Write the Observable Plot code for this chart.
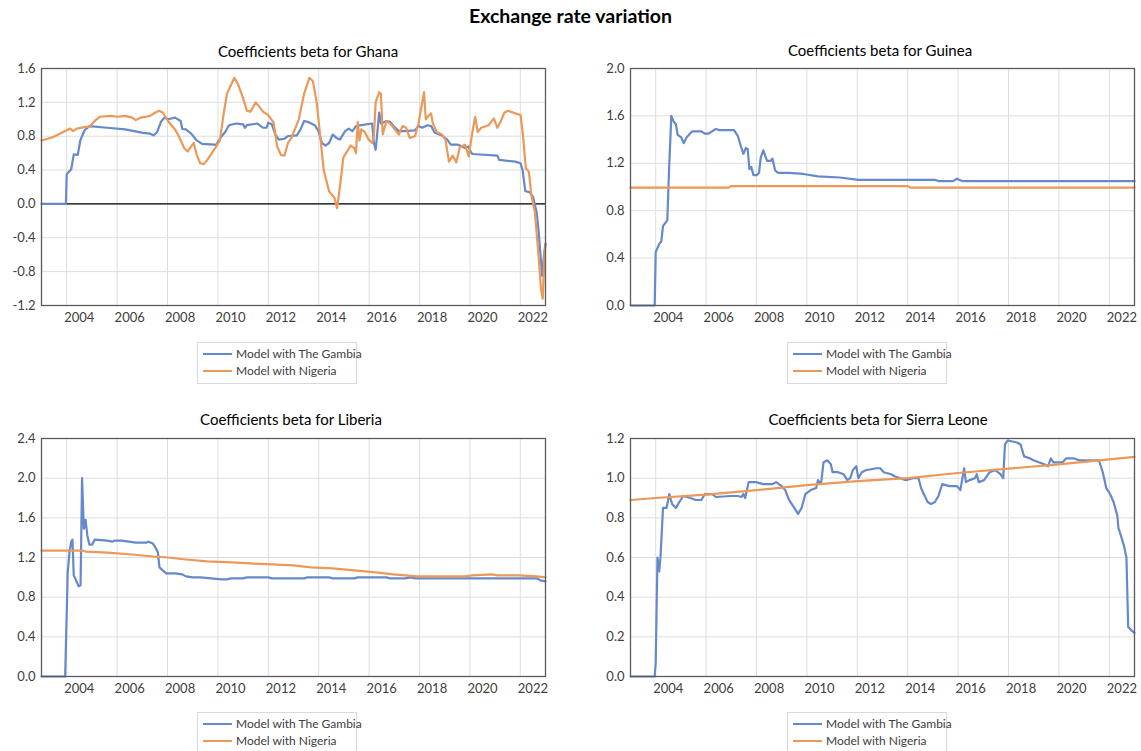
<!DOCTYPE html>
<html>
<head>
<meta charset="utf-8">
<script src="https://cdn.jsdelivr.net/npm/d3@7"></script>
<script src="https://cdn.jsdelivr.net/npm/@observablehq/plot@0.6"></script>
<style>
  html, body { margin: 0; padding: 0; background: #fff; }
  #root { position: relative; width: 1141px; height: 751px; background: #fff; font-family: Lato, "Open Sans", sans-serif; overflow: hidden; }
  .main-title { position: absolute; left: 0; width: 1141px; top: 4px; line-height: 24px; text-align: center; font-weight: bold; font-size: 19.5px; color: #000; }
  .ptitle { position: absolute; font-size: 15px; line-height: 18px; color: #000; white-space: nowrap; transform: translateX(-50%); }
  .panel { position: absolute; }
  .legend { position: absolute; border: 1px solid #d9d9d9; width: 158px; height: 40px; background: #fff; }
  .legend .row { position: absolute; left: 5px; height: 16px; font-size: 12px; color: #404040; white-space: nowrap; }
  .legend .sw { position: absolute; left: 0; top: 7px; width: 29px; height: 2px; }
  .legend .lab { position: absolute; left: 33px; top: 0px; line-height: 16px; }
</style>
</head>
<body>
<div id="root">
  <div class="main-title">Exchange rate variation</div>
</div>
<script>
// ---------- tick labels ----------
const gridYears = [2004, 2006, 2008, 2010, 2012, 2014, 2016, 2018, 2020, 2022];
const ghanaTicks = [-1.2, -0.8, -0.4, 0, 0.4, 0.8, 1.2, 1.6];
const guineaTicks = [0, 0.4, 0.8, 1.2, 1.6, 2.0];
const liberiaTicks = [0, 0.4, 0.8, 1.2, 1.6, 2.0, 2.4];
const sierraTicks = [0, 0.2, 0.4, 0.6, 0.8, 1.0, 1.2];
const seriesNames = ["Model with The Gambia", "Model with Nigeria"];

// ---------- Ghana ----------
const ghanaGambiaYear = [2003.0,2003.97,2004.0,2004.18,2004.28,2004.44,2004.54,2004.71,2004.90,2005.61,2006.32,2007.03,2007.31,2007.45,2007.59,2007.74,2007.88,2008.02,2008.30,2008.52,2008.59,2008.73,2008.94,2009.16,2009.37,2009.87,2009.94,2010.01,2010.15,2010.29,2010.44,2010.72,2011.00,2011.07,2011.15,2011.57,2011.79,2011.93,2012.00,2012.14,2012.28,2012.42,2012.64,2012.78,2013.13,2013.28,2013.42,2013.56,2013.70,2013.85,2013.99,2014.13,2014.27,2014.41,2014.56,2014.70,2014.84,2015.05,2015.19,2015.34,2015.48,2015.69,2016.12,2016.19,2016.26,2016.33,2016.40,2016.47,2016.69,2016.83,2016.97,2017.18,2017.40,2017.82,2017.96,2018.11,2018.32,2018.46,2018.60,2018.89,2019.10,2019.24,2019.53,2019.81,2019.95,2020.02,2020.10,2021.09,2021.16,2021.80,2022.01,2022.09,2022.20,2022.37,2022.51,2022.65,2022.72,2022.80,2022.87,2022.94,2023.0];
const ghanaGambiaValue = [0,0,0.35,0.41,0.585,0.58,0.75,0.87,0.92,0.90,0.88,0.84,0.83,0.81,0.85,0.97,1.02,1.00,1.02,0.98,0.885,0.88,0.83,0.75,0.71,0.70,0.70,0.74,0.80,0.85,0.93,0.95,0.94,0.90,0.93,0.95,0.90,0.90,0.96,0.94,0.82,0.76,0.77,0.80,0.81,0.88,0.98,0.97,0.95,0.93,0.86,0.72,0.69,0.72,0.82,0.78,0.76,0.86,0.89,0.86,0.92,0.93,0.95,0.72,0.64,0.85,1.08,0.95,0.98,0.97,0.92,0.86,0.86,0.87,0.92,0.90,0.93,0.92,0.84,0.81,0.76,0.70,0.70,0.66,0.68,0.62,0.59,0.57,0.52,0.50,0.48,0.40,0.15,0.14,0.08,-0.10,-0.30,-0.60,-0.85,-0.60,-0.47];
const ghanaNigeriaYear = [2003.0,2003.47,2004.0,2004.14,2004.26,2004.40,2004.75,2004.90,2005.11,2005.32,2005.75,2006.03,2006.32,2006.60,2006.74,2006.95,2007.31,2007.52,2007.67,2007.81,2008.02,2008.30,2008.45,2008.66,2008.80,2008.94,2009.04,2009.16,2009.30,2009.44,2009.58,2009.87,2010.08,2010.22,2010.36,2010.65,2010.79,2011.00,2011.15,2011.29,2011.50,2011.64,2011.79,2012.00,2012.21,2012.35,2012.50,2012.64,2012.78,2012.92,2013.21,2013.42,2013.63,2013.77,2013.92,2014.06,2014.20,2014.41,2014.63,2014.73,2014.84,2014.98,2015.19,2015.27,2015.41,2015.48,2015.55,2015.62,2015.69,2015.83,2015.98,2016.12,2016.19,2016.26,2016.40,2016.47,2016.54,2016.69,2016.83,2016.97,2017.18,2017.33,2017.47,2017.61,2017.82,2017.96,2018.18,2018.25,2018.39,2018.46,2018.53,2018.68,2018.89,2019.03,2019.17,2019.32,2019.46,2019.60,2019.81,2019.95,2020.10,2020.21,2020.31,2020.45,2020.74,2020.95,2021.09,2021.23,2021.37,2021.52,2021.80,2022.01,2022.11,2022.22,2022.34,2022.44,2022.58,2022.65,2022.72,2022.82,2022.89,2022.96,2023.0];
const ghanaNigeriaValue = [0.75,0.79,0.87,0.89,0.86,0.89,0.91,0.91,0.98,1.03,1.04,1.03,1.04,1.02,0.99,1.02,1.04,1.08,1.10,1.08,0.98,0.88,0.80,0.66,0.62,0.68,0.72,0.58,0.48,0.47,0.52,0.65,0.75,1.05,1.30,1.49,1.42,1.25,1.10,1.09,1.20,1.15,1.09,1.05,0.96,0.68,0.58,0.57,0.72,0.78,1.00,1.30,1.49,1.45,1.20,0.80,0.40,0.15,0.07,-0.05,0.20,0.55,0.65,0.69,0.66,0.60,0.97,0.75,0.88,0.85,0.76,0.72,0.80,1.20,1.32,1.30,0.82,0.98,0.95,0.90,0.82,0.92,0.90,0.78,0.80,0.95,1.32,1.00,1.05,1.07,0.95,0.85,0.82,0.76,0.50,0.57,0.49,0.67,0.70,0.56,0.85,1.03,0.85,0.90,0.93,1.01,0.90,0.98,1.08,1.10,1.07,1.05,0.80,0.42,0.38,0.10,-0.10,-0.35,-0.60,-1.00,-1.12,-0.60,-0.48];

// ---------- Guinea ----------
const guineaGambiaYear = [2003.0,2003.96,2004.0,2004.14,2004.22,2004.29,2004.39,2004.46,2004.54,2004.62,2004.72,2004.80,2004.87,2005.01,2005.11,2005.23,2005.45,2005.81,2005.95,2006.10,2006.24,2006.39,2006.53,2007.11,2007.26,2007.37,2007.48,2007.58,2007.65,2007.72,2007.79,2007.88,2008.01,2008.10,2008.17,2008.27,2008.42,2008.56,2008.63,2008.74,2008.85,2009.29,2009.86,2010.44,2011.31,2012.04,2015.08,2015.22,2015.80,2015.95,2016.16,2023.0];
const guineaGambiaValue = [0,0,0.45,0.52,0.54,0.67,0.70,0.72,1.20,1.60,1.55,1.53,1.44,1.42,1.37,1.42,1.47,1.47,1.45,1.45,1.47,1.49,1.48,1.48,1.43,1.35,1.28,1.33,1.32,1.15,1.17,1.10,1.10,1.12,1.25,1.31,1.22,1.22,1.24,1.14,1.12,1.12,1.11,1.09,1.08,1.06,1.06,1.05,1.05,1.07,1.05,1.05];
const guineaNigeriaYear = [2003.0,2006.9,2007.0,2014.0,2014.1,2023.0];
const guineaNigeriaValue = [0.995,0.995,1.008,1.008,0.995,0.995];

// ---------- Liberia ----------
const liberiaGambiaYear = [2003.0,2003.94,2004.04,2004.11,2004.18,2004.23,2004.28,2004.37,2004.47,2004.55,2004.61,2004.68,2004.75,2004.82,2004.90,2005.01,2005.11,2005.61,2005.82,2005.89,2006.17,2006.46,2006.74,2007.17,2007.24,2007.42,2007.52,2007.62,2007.68,2007.81,2007.95,2008.30,2008.59,2008.73,2009.01,2009.30,2009.73,2010.15,2010.36,2010.51,2011.00,2011.15,2012.00,2012.14,2013.42,2013.56,2014.41,2014.56,2015.41,2015.55,2016.69,2016.83,2017.40,2017.68,2017.82,2022.65,2022.80,2023.0];
const liberiaGambiaValue = [0,0,1.05,1.25,1.36,1.38,1.02,0.97,0.91,0.92,2.0,1.49,1.58,1.42,1.33,1.33,1.38,1.37,1.36,1.37,1.37,1.36,1.35,1.35,1.36,1.34,1.30,1.25,1.10,1.07,1.04,1.04,1.03,1.01,1.00,1.00,0.99,0.98,0.98,0.99,0.99,1.00,1.00,0.99,0.99,1.00,1.00,0.99,0.99,1.00,1.00,0.99,0.99,1.00,0.99,0.99,0.97,0.96];
const liberiaNigeriaYear = [2003.0,2004.61,2004.75,2005.61,2006.60,2007.45,2008.02,2008.73,2009.58,2010.58,2011.29,2012.14,2012.99,2013.70,2014.56,2015.41,2016.26,2016.97,2017.89,2019.81,2020.10,2020.88,2021.09,2021.94,2022.65,2023.0];
const liberiaNigeriaValue = [1.27,1.27,1.26,1.25,1.23,1.21,1.20,1.18,1.16,1.15,1.14,1.13,1.12,1.10,1.09,1.07,1.05,1.03,1.01,1.01,1.02,1.03,1.02,1.02,1.01,1.00];

// ---------- Sierra Leone ----------
const sierraGambiaYear = [2003.0,2003.96,2004.0,2004.07,2004.14,2004.19,2004.29,2004.43,2004.54,2004.65,2004.80,2004.94,2005.09,2005.38,2005.59,2005.81,2005.95,2006.24,2006.39,2006.97,2007.26,2007.40,2007.48,2007.55,2007.69,2007.98,2008.27,2008.63,2008.78,2009.00,2009.14,2009.29,2009.50,2009.65,2009.79,2009.94,2010.15,2010.37,2010.44,2010.56,2010.66,2010.81,2010.95,2011.02,2011.24,2011.46,2011.60,2011.72,2011.82,2011.96,2012.04,2012.18,2012.33,2012.76,2012.91,2013.05,2013.34,2013.48,2013.92,2014.21,2014.43,2014.53,2014.64,2014.79,2014.93,2015.08,2015.22,2015.37,2015.66,2015.95,2016.09,2016.24,2016.31,2016.45,2016.67,2016.74,2016.82,2017.03,2017.25,2017.47,2017.68,2017.79,2017.86,2017.97,2018.34,2018.48,2018.62,2018.84,2018.99,2019.20,2019.42,2019.57,2019.68,2019.78,2020.15,2020.29,2020.58,2020.80,2021.30,2021.59,2021.74,2021.88,2022.03,2022.17,2022.32,2022.36,2022.46,2022.58,2022.68,2022.75,2022.90,2023.0];
const sierraGambiaValue = [0,0,0.07,0.60,0.53,0.60,0.85,0.85,0.92,0.87,0.85,0.88,0.91,0.90,0.89,0.89,0.92,0.92,0.905,0.91,0.91,0.905,0.92,0.90,0.98,0.98,0.97,0.97,0.98,0.96,0.94,0.89,0.85,0.82,0.85,0.92,0.94,0.95,0.99,0.97,1.08,1.09,1.07,1.03,1.03,1.02,0.99,1.00,1.04,1.06,1.00,1.03,1.04,1.05,1.05,1.03,1.02,1.01,0.99,1.00,1.00,0.95,0.92,0.88,0.87,0.88,0.91,0.97,0.96,0.96,0.94,1.05,0.98,0.99,1.00,1.02,0.98,0.99,1.03,1.04,1.02,1.00,1.17,1.19,1.18,1.17,1.11,1.10,1.09,1.08,1.07,1.06,1.10,1.08,1.08,1.10,1.10,1.09,1.09,1.09,1.03,0.95,0.92,0.88,0.81,0.75,0.71,0.66,0.60,0.25,0.23,0.22];
const sierraNigeriaYear = [2003.0,2004.0,2006.0,2008.0,2010.0,2012.0,2014.0,2016.0,2018.0,2020.0,2022.0,2023.0];
const sierraNigeriaValue = [0.89,0.90,0.917,0.94,0.965,0.985,1.00,1.026,1.048,1.07,1.095,1.107];

// ---------- styles ----------
const BLUE = "#6589cb";
const ORANGE = "#ec9858";
const GRID = "#dedede";
const FRAME = "#5a5a5a";
const TEXT = "#404040";

const rows = (xs, ys) => xs.map((x, i) => ({year: x, value: ys[i]}));
const labelPos = gridYears.map(y => y + 0.5);

const root = document.getElementById("root");

function panel(cfg) {
  const marks = [
    Plot.gridX(gridYears, {stroke: GRID, strokeOpacity: 1}),
    Plot.gridY(cfg.ticks, {stroke: GRID, strokeOpacity: 1}),
    Plot.axisY(cfg.ticks, {tickSize: 0, tickPadding: 6, tickFormat: d => d.toFixed(1), fill: TEXT, fontSize: 13, label: null}),
    Plot.axisX(labelPos, {tickSize: 0, tickPadding: 7, tickFormat: d => String(Math.floor(d)), fill: TEXT, fontSize: 13, label: null})
  ];
  if (cfg.zero) marks.push(Plot.ruleY([0], {stroke: "#000", strokeWidth: 1.2}));
  marks.push(
    Plot.line(rows(cfg.gy, cfg.gv), {x: "year", y: "value", stroke: BLUE, strokeWidth: 2.2, curve: "linear"}),
    Plot.line(rows(cfg.ny, cfg.nv), {x: "year", y: "value", stroke: ORANGE, strokeWidth: 2.2, curve: "linear"}),
    Plot.frame({stroke: FRAME, strokeWidth: 1.3})
  );
  const svg = Plot.plot({
    width: cfg.w, height: cfg.h,
    marginLeft: cfg.ml, marginRight: cfg.mr, marginTop: cfg.mt, marginBottom: cfg.mb,
    x: {domain: [2003, 2023], label: null},
    y: {domain: cfg.domain, label: null},
    style: {fontFamily: "Lato, 'Open Sans', sans-serif", fontSize: "13px", background: "transparent", overflow: "visible"},
    marks
  });
  const wrap = document.createElement("div");
  wrap.className = "panel";
  wrap.style.left = cfg.left + "px";
  wrap.style.top = cfg.top + "px";
  wrap.appendChild(svg);
  root.appendChild(wrap);

  const t = document.createElement("div");
  t.className = "ptitle";
  t.textContent = cfg.title;
  t.style.left = cfg.tx + "px";
  t.style.top = cfg.ty + "px";
  root.appendChild(t);

  const lg = document.createElement("div");
  lg.className = "legend";
  lg.style.left = cfg.lx + "px";
  lg.style.top = cfg.ly + "px";
  [BLUE, ORANGE].forEach((c, i) => {
    const r = document.createElement("div");
    r.className = "row";
    r.style.top = (3 + i * 17) + "px";
    r.innerHTML = `<div class="sw" style="background:${c}"></div><div class="lab">${seriesNames[i]}</div>`;
    lg.appendChild(r);
  });
  root.appendChild(lg);
}

panel({title: "Coefficients beta for Ghana", tx: 308, ty: 42, left: 0, top: 40, w: 560, h: 300, ml: 41, mr: 15, mt: 28, mb: 35,
  domain: [-1.2, 1.6], ticks: ghanaTicks, zero: true,
  gy: ghanaGambiaYear, gv: ghanaGambiaValue, ny: ghanaNigeriaYear, nv: ghanaNigeriaValue, lx: 197, ly: 342});
panel({title: "Coefficients beta for Guinea", tx: 880, ty: 41, left: 589, top: 40, w: 552, h: 300, ml: 41, mr: 7, mt: 28, mb: 35,
  domain: [0, 2.0], ticks: guineaTicks, zero: false,
  gy: guineaGambiaYear, gv: guineaGambiaValue, ny: guineaNigeriaYear, nv: guineaNigeriaValue, lx: 787, ly: 342});
panel({title: "Coefficients beta for Liberia", tx: 291, ty: 410, left: 0, top: 410, w: 560, h: 300, ml: 41, mr: 15, mt: 28, mb: 34,
  domain: [0, 2.4], ticks: liberiaTicks, zero: false,
  gy: liberiaGambiaYear, gv: liberiaGambiaValue, ny: liberiaNigeriaYear, nv: liberiaNigeriaValue, lx: 197, ly: 712});
panel({title: "Coefficients beta for Sierra Leone", tx: 878, ty: 410, left: 589, top: 410, w: 552, h: 300, ml: 41, mr: 7, mt: 28, mb: 34,
  domain: [0, 1.2], ticks: sierraTicks, zero: false,
  gy: sierraGambiaYear, gv: sierraGambiaValue, ny: sierraNigeriaYear, nv: sierraNigeriaValue, lx: 787, ly: 712});
</script>
</body>
</html>
